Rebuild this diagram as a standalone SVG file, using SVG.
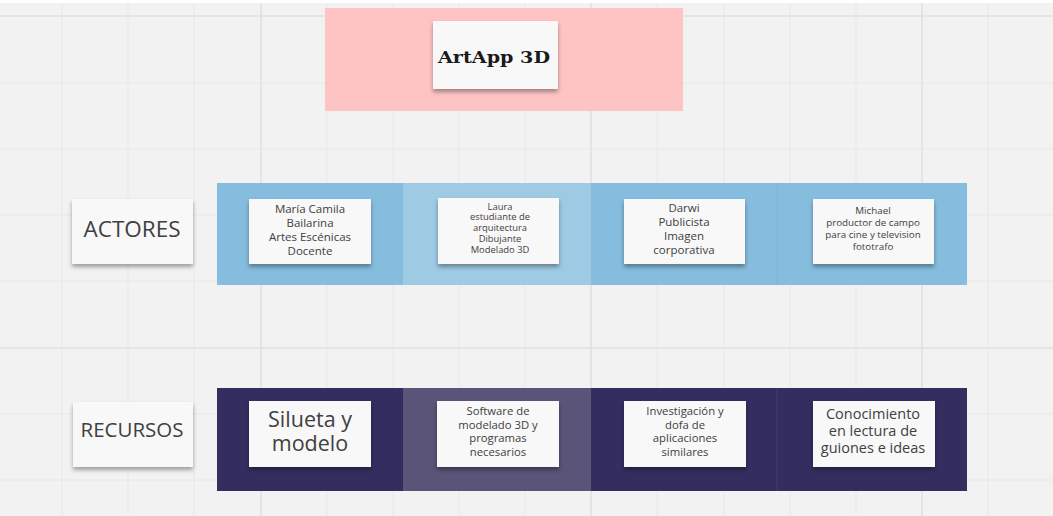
<svg xmlns="http://www.w3.org/2000/svg" width="1053" height="516" viewBox="0 0 1053 516">
<defs>
<filter id="sh" x="-10%" y="-10%" width="120%" height="140%">
<feDropShadow dx="0" dy="3" stdDeviation="2" flood-color="#000" flood-opacity="0.35"/>
</filter>
<style>
.g{stroke:#e8e8e8;stroke-width:1}
.gm{stroke:#e0e0e0;stroke-width:1.6}
.card{fill:#f8f8f8;filter:url(#sh)}
.t{font-family:"Open Sans","Noto Sans",sans-serif;fill:#404040;text-anchor:middle}
.blue{fill:#86bcdd}
.blueL{fill:#9ecae4}
.navy{fill:#332e5f}
.navyL{fill:#5a5478}
</style>
</defs>
<rect x="0" y="0" width="1053" height="516" fill="#f2f2f2"/>
<rect x="0" y="0" width="1053" height="3" fill="#ffffff"/>
<g id="grid">
<line class="g" x1="62" y1="3" x2="62" y2="516"/>
<line class="g" x1="128" y1="3" x2="128" y2="516"/>
<line class="g" x1="194" y1="3" x2="194" y2="516"/>
<line class="gm" x1="261" y1="3" x2="261" y2="516"/>
<line class="g" x1="327" y1="3" x2="327" y2="516"/>
<line class="g" x1="393" y1="3" x2="393" y2="516"/>
<line class="g" x1="459" y1="3" x2="459" y2="516"/>
<line class="g" x1="525" y1="3" x2="525" y2="516"/>
<line class="gm" x1="591" y1="3" x2="591" y2="516"/>
<line class="g" x1="657" y1="3" x2="657" y2="516"/>
<line class="g" x1="724" y1="3" x2="724" y2="516"/>
<line class="g" x1="790" y1="3" x2="790" y2="516"/>
<line class="g" x1="856" y1="3" x2="856" y2="516"/>
<line class="gm" x1="922" y1="3" x2="922" y2="516"/>
<line class="g" x1="988" y1="3" x2="988" y2="516"/>
<line class="gm" x1="0" y1="16" x2="1053" y2="16"/>
<line class="g" x1="0" y1="83" x2="1053" y2="83"/>
<line class="g" x1="0" y1="149" x2="1053" y2="149"/>
<line class="g" x1="0" y1="215" x2="1053" y2="215"/>
<line class="g" x1="0" y1="281" x2="1053" y2="281"/>
<line class="gm" x1="0" y1="348" x2="1053" y2="348"/>
<line class="g" x1="0" y1="414" x2="1053" y2="414"/>
<line class="g" x1="0" y1="480" x2="1053" y2="480"/>
</g>
<g id="bands">
<rect x="325" y="8" width="358" height="103" fill="#fec4c4"/>
<rect class="blue" x="217" y="183" width="186" height="102"/>
<rect class="blueL" x="403" y="183" width="188" height="102"/>
<rect class="blue" x="591" y="183" width="186" height="102"/>
<rect class="blue" x="777" y="183" width="190" height="102"/>
<line x1="777" y1="183" x2="777" y2="285" stroke="#7fb5d6" stroke-width="1"/>
<rect class="navy" x="217" y="388" width="186" height="103"/>
<rect class="navyL" x="403" y="388" width="188" height="103"/>
<rect class="navy" x="591" y="388" width="186" height="103"/>
<rect class="navy" x="777" y="388" width="190" height="103"/>
<line x1="777" y1="388" x2="777" y2="491" stroke="#403a6a" stroke-width="1"/>
</g>
<g id="title">
<rect class="card" x="433" y="21" width="125" height="68"/>
<text x="494" y="63" font-family="'DejaVu Serif',serif" font-weight="bold" font-size="17.5" fill="#1a1a1a" text-anchor="middle" textLength="112" lengthAdjust="spacingAndGlyphs">ArtApp 3D</text>
</g>
<g id="actores">
<rect class="card" x="72" y="199" width="121" height="65"/>
<text class="t" x="132" y="237" font-size="22.5">ACTORES</text>
</g>
<g id="recursos">
<rect class="card" x="73" y="402" width="120" height="65"/>
<text class="t" x="132" y="437" font-size="20.5">RECURSOS</text>
</g>
<g id="maria">
<rect class="card" x="249" y="199" width="122" height="65"/>
<text class="t" font-size="11.5"><tspan x="310" y="213">María Camila</tspan><tspan x="310" dy="14">Bailarina</tspan><tspan x="310" dy="14">Artes Escénicas</tspan><tspan x="310" dy="14">Docente</tspan></text>
</g>
<g id="laura">
<rect class="card" x="438" y="198" width="121" height="66"/>
<text class="t" font-size="9.4"><tspan x="500" y="209.5">Laura</tspan><tspan x="500" dy="10.8">estudiante de</tspan><tspan x="500" dy="10.8">arquitectura</tspan><tspan x="500" dy="10.8">Dibujante</tspan><tspan x="500" dy="10.8">Modelado 3D</tspan></text>
</g>
<g id="darwi">
<rect class="card" x="624" y="199" width="121" height="65"/>
<text class="t" font-size="11.5"><tspan x="684" y="212">Darwi</tspan><tspan x="684" dy="14">Publicista</tspan><tspan x="684" dy="14">Imagen</tspan><tspan x="684" dy="14">corporativa</tspan></text>
</g>
<g id="michael">
<rect class="card" x="813" y="199" width="121" height="65"/>
<text class="t" font-size="9.8"><tspan x="873" y="214">Michael</tspan><tspan x="873" dy="12">productor de campo</tspan><tspan x="873" dy="12">para cine y television</tspan><tspan x="873" dy="12">fototrafo</tspan></text>
</g>
<g id="silueta">
<rect class="card" x="249" y="401" width="122" height="66"/>
<text class="t" font-size="21.5"><tspan x="310" y="427">Silueta y</tspan><tspan x="310" dy="23.5">modelo</tspan></text>
</g>
<g id="software">
<rect class="card" x="437" y="401" width="122" height="66"/>
<text class="t" font-size="11.3"><tspan x="498" y="415">Software de</tspan><tspan x="498" dy="13.5">modelado 3D y</tspan><tspan x="498" dy="13.5">programas</tspan><tspan x="498" dy="13.5">necesarios</tspan></text>
</g>
<g id="investigacion">
<rect class="card" x="624" y="401" width="122" height="66"/>
<text class="t" font-size="11.3"><tspan x="685" y="415">Investigación y</tspan><tspan x="685" dy="13.5">dofa de</tspan><tspan x="685" dy="13.5">aplicaciones</tspan><tspan x="685" dy="13.5">similares</tspan></text>
</g>
<g id="conocimiento">
<rect class="card" x="813" y="401" width="122" height="66"/>
<text class="t" font-size="14.5"><tspan x="873" y="419">Conocimiento</tspan><tspan x="873" dy="17">en lectura de</tspan><tspan x="873" dy="17">guiones e ideas</tspan></text>
</g>
<g id="connectors"/>
</svg>
